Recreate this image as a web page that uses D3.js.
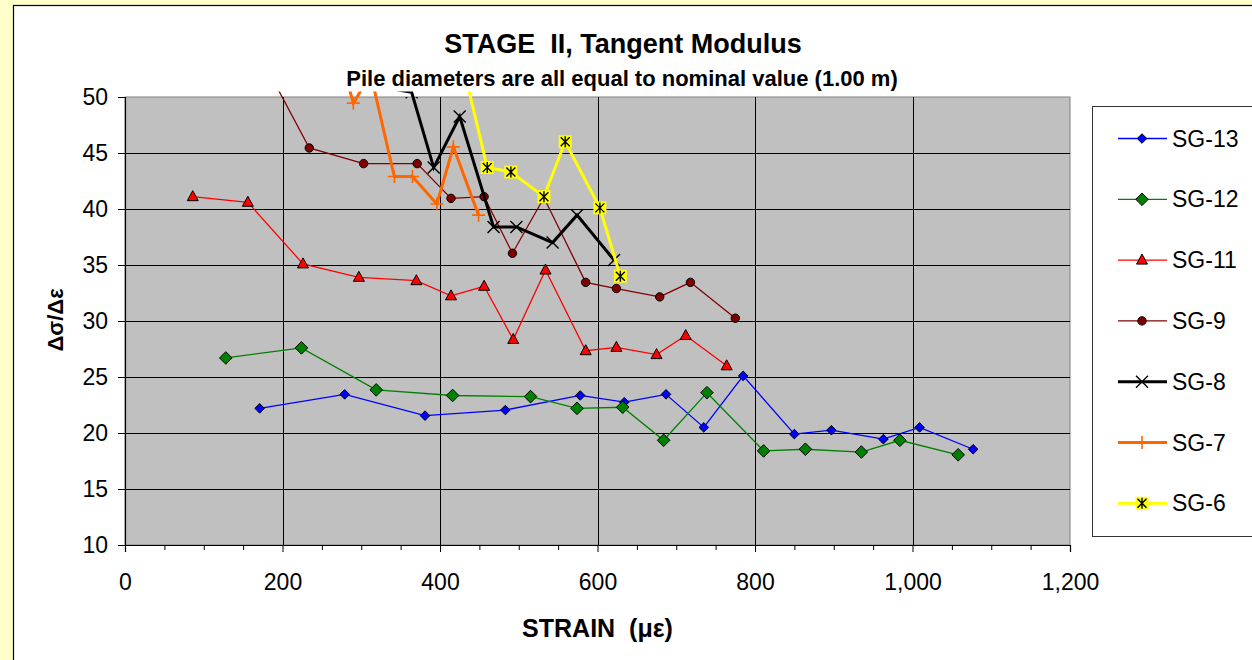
<!DOCTYPE html>
<html><head><meta charset="utf-8">
<script src="https://cdn.jsdelivr.net/npm/d3@7"></script>
<style>
body{margin:0;background:#FFFFCC;overflow:hidden;}
svg{display:block;font-family:Arial,"Liberation Sans",sans-serif;}
</style>
</head><body>
<svg id="c" width="1252" height="660"></svg>
<script>
// ---- data ----
const seriesNames = ["SG-13","SG-12","SG-11","SG-9","SG-8","SG-7","SG-6"];
const sg13X = [171, 279, 381, 483, 578, 634, 687, 735, 785, 850, 897, 963, 1009, 1077];
const sg13Y = [22.2, 23.45, 21.55, 22.05, 23.35, 22.75, 23.45, 20.5, 25.1, 19.9, 20.25, 19.45, 20.5, 18.55];
const sg12X = [128, 224, 319, 416, 515, 574, 632, 684, 739, 811, 864, 935, 984, 1058];
const sg12Y = [26.7, 27.6, 23.85, 23.35, 23.25, 22.2, 22.3, 19.35, 23.6, 18.4, 18.55, 18.3, 19.35, 18.05];
const sg11X = [86, 156, 226, 297, 370, 414, 456, 493, 534, 585, 624, 675, 712, 764];
const sg11Y = [41.1, 40.6, 35.1, 33.9, 33.6, 32.25, 33.1, 28.35, 34.55, 27.35, 27.65, 27.0, 28.7, 26.0];
const sg9X = [164, 234, 303, 371, 414, 456, 492, 532, 585, 624, 679, 718, 775];
const sg9Y = [54.7, 45.45, 44.05, 44.05, 40.95, 41.1, 36.05, 41.0, 33.45, 32.9, 32.15, 33.45, 30.25];
const sg8X = [300, 364, 392, 425, 468, 497, 543, 574, 621];
const sg8Y = [51.2, 50.42, 43.7, 48.25, 38.4, 38.4, 37.0, 39.45, 35.45];
const sg7X = [270, 290, 312, 342, 365, 396, 417, 449];
const sg7Y = [54.4, 49.45, 52.05, 42.9, 42.9, 40.45, 45.55, 39.45];
const sg6X = [430, 460, 490, 532, 559, 603, 629];
const sg6Y = [52.6, 43.7, 43.3, 41.1, 46.0, 40.1, 34.0];

const xTicks = [0, 200, 400, 600, 800, 1000, 1200];
const xMinorTicks = [50,100,150,250,300,350,450,500,550,650,700,750,850,900,950,1050,1100,1150];
const yTicks = [10, 15, 20, 25, 30, 35, 40, 45, 50];

const titleText = "STAGE  II, Tangent Modulus";
const subtitleText = "Pile diameters are all equal to nominal value (1.00 m)";
const xTitle = "STRAIN  (\u03bc\u03b5)";
const yTitle = "\u0394\u03c3/\u0394\u03b5";

// ---- styles ----
const styles = [
  {color:"#0000FF", width:1.3, marker:"diamondS"},
  {color:"#008000", width:1.3, marker:"diamondL"},
  {color:"#FF0000", width:1.3, marker:"triangle"},
  {color:"#800000", width:1.3, marker:"circle"},
  {color:"#000000", width:3,   marker:"x"},
  {color:"#FF6600", width:3,   marker:"plus"},
  {color:"#FFFF00", width:3,   marker:"star"}
];
const seriesX = [sg13X, sg12X, sg11X, sg9X, sg8X, sg7X, sg6X];
const seriesY = [sg13Y, sg12Y, sg11Y, sg9Y, sg8Y, sg7Y, sg6Y];

const svg = d3.select("#c");
const L = 125, R = 1070, T = 97, B = 545;
const x = d3.scaleLinear().domain([0, 1200]).range([L, R]);
const y = d3.scaleLinear().domain([10, 50]).range([B, T]);

// chart area
svg.append("rect").attr("x", 13.5).attr("y", 5.5).attr("width", 1260).attr("height", 670)
  .attr("fill", "#fff").attr("stroke", "#000").attr("stroke-width", 1.2);

// clips
const defs = svg.append("defs");
defs.append("clipPath").attr("id", "lineClip").append("rect")
  .attr("x", L).attr("y", 91.6).attr("width", R - L).attr("height", B - 91.6);
defs.append("clipPath").attr("id", "plotClip").append("rect")
  .attr("x", L - 8).attr("y", T).attr("width", R - L + 16).attr("height", B - T + 8);

// plot area
svg.append("rect").attr("x", L).attr("y", T).attr("width", R - L).attr("height", B - T)
  .attr("fill", "#C0C0C0").attr("stroke", "#808080").attr("stroke-width", 1);

// gridlines
const grid = svg.append("g").attr("shape-rendering", "crispEdges");
grid.selectAll("line.h").data(yTicks.filter(d => d > 10 && d < 50)).enter().append("line")
  .attr("x1", L).attr("x2", R).attr("y1", d => Math.round(y(d)) + 0.5).attr("y2", d => Math.round(y(d)) + 0.5)
  .attr("stroke", "#000").attr("stroke-width", 1);
grid.selectAll("line.v").data(xTicks.filter(d => d > 0 && d < 1200)).enter().append("line")
  .attr("y1", T).attr("y2", B).attr("x1", d => Math.round(x(d)) + 0.5).attr("x2", d => Math.round(x(d)) + 0.5)
  .attr("stroke", "#000").attr("stroke-width", 1);

// axes
const yAxis = d3.axisLeft(y).tickValues(yTicks).tickSize(7).tickPadding(10).tickFormat(d3.format("d"));
const gy = svg.append("g").attr("transform", `translate(${L},0)`).call(yAxis);
gy.select(".domain").attr("stroke", "#000").attr("stroke-width", 1.2);
gy.selectAll("text").attr("font-size", 23).attr("fill", "#000").attr("font-family", "Arial, 'Liberation Sans', sans-serif");

const xAxis = d3.axisBottom(x).tickValues(xTicks).tickSize(7).tickFormat(d3.format(","));
const gx = svg.append("g").attr("transform", `translate(0,${B})`).call(xAxis);
gx.select(".domain").attr("stroke", "#000").attr("stroke-width", 1.2);
gx.selectAll("text").attr("font-size", 23).attr("fill", "#000").attr("y", 45).attr("dy", 0)
  .attr("font-family", "Arial, 'Liberation Sans', sans-serif");
const xMinor = d3.axisBottom(x).tickValues(xMinorTicks).tickSize(5).tickFormat("");
const gxm = svg.append("g").attr("transform", `translate(0,${B})`).call(xMinor);
gxm.select(".domain").remove();

// markers
function drawMarker(g, type, cx, cy, color) {
  if (type === "diamondS" || type === "diamondL") {
    const r = type === "diamondS" ? 4.8 : 6.3;
    g.append("path").attr("d", `M${cx},${cy - r}L${cx + r},${cy}L${cx},${cy + r}L${cx - r},${cy}Z`)
      .attr("fill", color).attr("stroke", "#000").attr("stroke-width", 1);
  } else if (type === "triangle") {
    g.append("path").attr("d", `M${cx},${cy - 6}L${cx + 5.5},${cy + 4}L${cx - 5.5},${cy + 4}Z`)
      .attr("fill", color).attr("stroke", "#000").attr("stroke-width", 1);
  } else if (type === "circle") {
    g.append("circle").attr("cx", cx).attr("cy", cy).attr("r", 4.2)
      .attr("fill", color).attr("stroke", "#000").attr("stroke-width", 1);
  } else if (type === "x") {
    g.append("path").attr("d", `M${cx - 6},${cy - 6}L${cx + 6},${cy + 6}M${cx - 6},${cy + 6}L${cx + 6},${cy - 6}`)
      .attr("stroke", "#000").attr("stroke-width", 1.4).attr("fill", "none");
  } else if (type === "plus") {
    g.append("path").attr("d", `M${cx - 6.5},${cy}L${cx + 6.5},${cy}M${cx},${cy - 6.5}L${cx},${cy + 6.5}`)
      .attr("stroke", color).attr("stroke-width", 1.6).attr("fill", "none");
  } else if (type === "star") {
    g.append("rect").attr("x", cx - 6.5).attr("y", cy - 6.5).attr("width", 13).attr("height", 13).attr("fill", color);
    g.append("path").attr("d", `M${cx - 4.5},${cy - 4.5}L${cx + 4.5},${cy + 4.5}M${cx - 4.5},${cy + 4.5}L${cx + 4.5},${cy - 4.5}M${cx},${cy - 5.5}L${cx},${cy + 5.5}`)
      .attr("stroke", "#000").attr("stroke-width", 1.4).attr("fill", "none");
  }
}

// series
const line = d3.line().x(d => x(d[0])).y(d => y(d[1]));
seriesNames.forEach((name, i) => {
  const pts = seriesX[i].map((v, j) => [v, seriesY[i][j]]);
  const st = styles[i];
  const g = svg.append("g").attr("class", "series");
  g.append("path").datum(pts).attr("d", line).attr("fill", "none")
    .attr("stroke", st.color).attr("stroke-width", st.width).attr("stroke-linejoin", "miter")
    .attr("clip-path", "url(#lineClip)");
  const mg = g.append("g").attr("clip-path", "url(#plotClip)");
  pts.forEach(p => drawMarker(mg, st.marker, x(p[0]), y(p[1]), st.color));
});

// titles
svg.append("text").attr("x", 623).attr("y", 53).attr("text-anchor", "middle")
  .attr("font-size", 27).attr("font-weight", "bold").style("white-space", "pre").text(titleText);
svg.append("text").attr("x", 622).attr("y", 86).attr("text-anchor", "middle")
  .attr("font-size", 22).attr("font-weight", "bold").text(subtitleText);
svg.append("text").attr("x", (L + R) / 2).attr("y", 637).attr("text-anchor", "middle")
  .attr("font-size", 25).attr("font-weight", "bold").style("white-space", "pre").text(xTitle);
svg.append("text").attr("transform", "translate(63,320) rotate(-90)").attr("text-anchor", "middle")
  .attr("font-size", 22).attr("font-weight", "bold").text(yTitle);

// legend
const lg = svg.append("g");
lg.append("rect").attr("x", 1092.5).attr("y", 106.5).attr("width", 200).attr("height", 430)
  .attr("fill", "#fff").attr("stroke", "#333").attr("stroke-width", 1);
seriesNames.forEach((name, i) => {
  const cy = 138.5 + i * 60.8;
  const st = styles[i];
  lg.append("line").attr("x1", 1118).attr("x2", 1167).attr("y1", cy).attr("y2", cy)
    .attr("stroke", st.color).attr("stroke-width", st.width);
  drawMarker(lg, st.marker, 1142, cy, st.color);
  lg.append("text").attr("x", 1172).attr("y", cy + 8).attr("font-size", 23).text(name);
});
</script>
</body></html>
